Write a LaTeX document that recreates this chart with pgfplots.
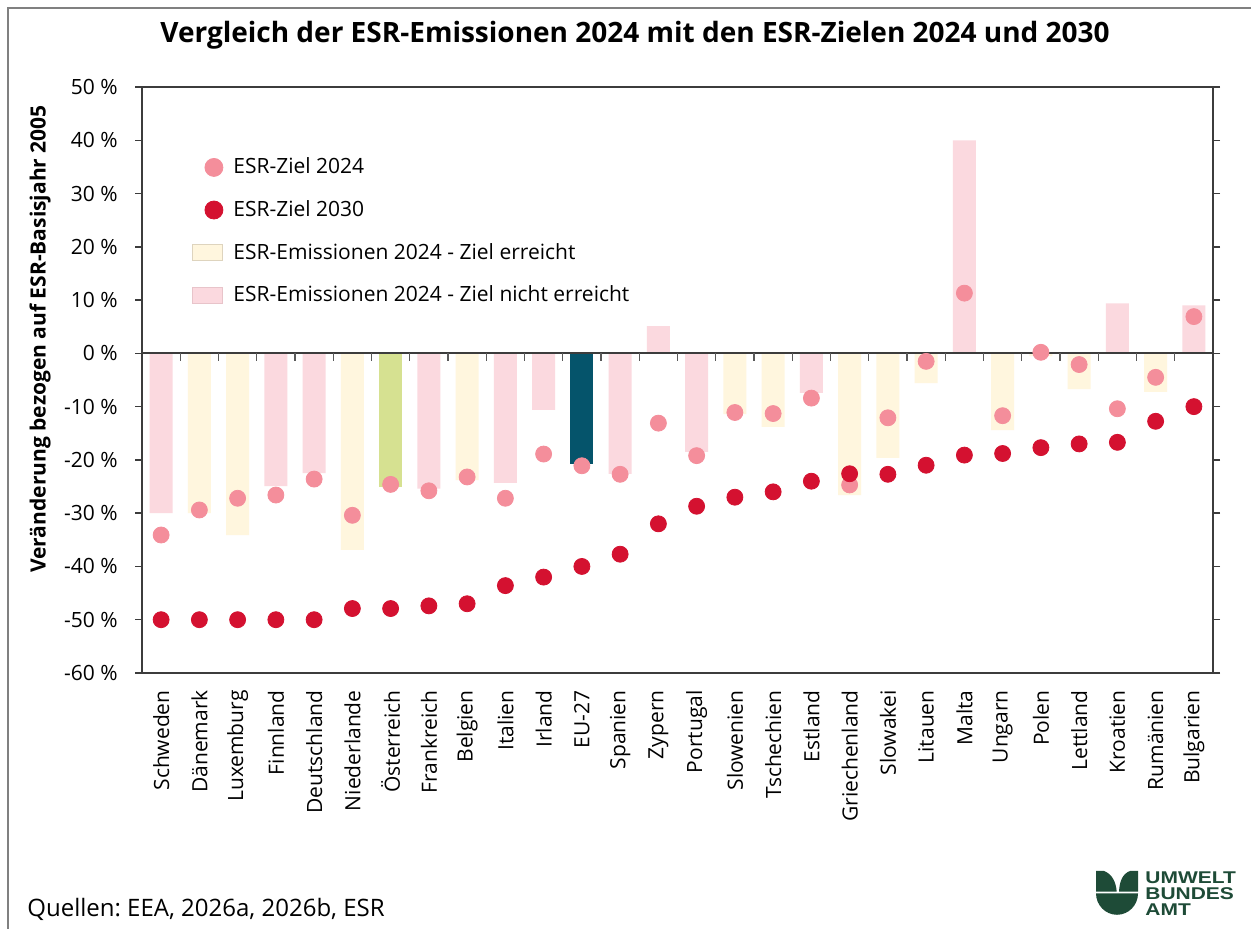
\documentclass[border=0pt]{standalone}
\usepackage{pgfplots}
\pgfplotsset{compat=1.18}
\usepackage{fontspec}
\setmainfont{Open Sans}
\newfontfamily\logofont{Liberation Sans}
\frenchspacing
\definecolor{barpink}{RGB}{251,217,223}
\definecolor{baryellow}{RGB}{255,246,222}
\definecolor{bargreen}{RGB}{214,225,145}
\definecolor{barteal}{RGB}{5,84,107}
\definecolor{dotpink}{RGB}{244,142,155}
\definecolor{dotred}{RGB}{212,17,48}
\definecolor{logogreen}{RGB}{30,75,55}
\definecolor{framegray}{RGB}{128,128,128}
\definecolor{axisgray}{RGB}{60,60,60}
\definecolor{yellowborder}{RGB}{222,212,190}
\definecolor{pinkborder}{RGB}{232,196,202}
\begin{document}
\frenchspacing
\begin{tikzpicture}
\useasboundingbox (0,0) rectangle (625.5pt,464.5pt);
\clip (0,0) rectangle (625.5pt,464.5pt);
\fill[white] (0,0) rectangle (625.5pt,464.5pt);
\draw[framegray, line width=1pt] (4pt,-20pt) rectangle (700pt,460.5pt);
\begin{axis}[
  at={(71pt,128pt)}, anchor=south west,
  scale only axis, width=535.5pt, height=293pt,
  xmin=-0.5, xmax=27.5, ymin=-60, ymax=50,
  axis line style={axisgray, line width=1pt},
  tick align=outside, major tick length=3.5pt,
  xtick={0,...,27},
  xtick style={draw=none},
  xticklabels={Schweden,Dänemark,Luxemburg,Finnland,Deutschland,Niederlande,Österreich,Frankreich,Belgien,Italien,Irland,EU-27,Spanien,Zypern,Portugal,Slowenien,Tschechien,Estland,Griechenland,Slowakei,Litauen,Malta,Ungarn,Polen,Lettland,Kroatien,Rumänien,Bulgarien},
  xticklabel style={rotate=90, anchor=east, inner sep=0pt, font=\fontsize{10.5pt}{12pt}\selectfont},
  xticklabel shift=5pt,
  ytick={-60,-50,-40,-30,-20,-10,0,10,20,30,40,50},
  yticklabels={-60 \%,-50 \%,-40 \%,-30 \%,-20 \%,-10 \%,0 \%,10 \%,20 \%,30 \%,40 \%,50 \%},
  ytick style={axisgray, line width=0.75pt},
  yticklabel style={anchor=east, inner sep=0pt, font=\fontsize{10.5pt}{12pt}\selectfont},
  yticklabel shift=8.5pt,
  legend style={at={(0.0467,0.8805)}, anchor=north west, draw=none, fill=none,
    inner sep=0pt, row sep=11.3pt, column sep=5pt,
    font=\fontsize{10.5pt}{12pt}\selectfont, nodes={inner sep=0pt}},
  legend cell align=left,
]
\addlegendimage{legend image code/.code={\path[draw=none,fill=none] (-7.5pt,-5pt) rectangle (7.5pt,5pt); \fill[dotpink] (3pt,0pt) circle (4.5pt);}}
\addlegendentry{ESR-Ziel 2024}
\addlegendimage{legend image code/.code={\path[draw=none,fill=none] (-7.5pt,-5pt) rectangle (7.5pt,5pt); \fill[dotred] (3pt,0pt) circle (4.5pt);}}
\addlegendentry{ESR-Ziel 2030}
\addlegendimage{legend image code/.code={\path[draw=none,fill=none] (-7.5pt,-5pt) rectangle (7.5pt,5pt); \filldraw[fill=baryellow, draw=yellowborder, line width=0.5pt] (-7.5pt,-4pt) rectangle (7.5pt,4pt);}}
\addlegendentry{ESR-Emissionen 2024 - Ziel erreicht}
\addlegendimage{legend image code/.code={\path[draw=none,fill=none] (-7.5pt,-5pt) rectangle (7.5pt,5pt); \filldraw[fill=barpink, draw=pinkborder, line width=0.5pt] (-7.5pt,-4pt) rectangle (7.5pt,4pt);}}
\addlegendentry{ESR-Emissionen 2024 - Ziel nicht erreicht}
% ESR-Emissionen 2024 - Ziel nicht erreicht
\addplot[ybar, bar width=11.5pt, bar shift=0pt, fill=barpink, draw=none, forget plot] coordinates {
 (0,-30.0) (3,-24.9) (4,-22.5) (7,-25.4) (9,-24.3) (10,-10.6) (12,-22.6) (13,5.1) (14,-18.5) (17,-7.4) (21,40.0) (25,9.4) (27,9.0)};
% ESR-Emissionen 2024 - Ziel erreicht
\addplot[ybar, bar width=11.5pt, bar shift=0pt, fill=baryellow, draw=none, forget plot] coordinates {
 (1,-30.0) (2,-34.1) (5,-36.9) (8,-23.8) (15,-11.4) (16,-13.8) (18,-26.6) (19,-19.6) (20,-5.6) (22,-14.4) (23,-0.5) (24,-6.7) (26,-7.25)};
% Oesterreich
\addplot[ybar, bar width=11.5pt, bar shift=0pt, fill=bargreen, draw=none, forget plot] coordinates {(6,-25.1)};
% EU-27
\addplot[ybar, bar width=11.5pt, bar shift=0pt, fill=barteal, draw=none, forget plot] coordinates {(11,-20.7)};
% zero line
\addplot[axisgray, line width=0.9pt, forget plot] coordinates {(-0.5,0) (27.5,0)};
\pgfplotsinvokeforeach{0.5,1.5,2.5,3.5,4.5,5.5,6.5,7.5,8.5,9.5,10.5,11.5,12.5,13.5,14.5,15.5,16.5,17.5,18.5,19.5,20.5,21.5,22.5,23.5,24.5,25.5,26.5}{
  \draw[axisgray!85, line width=0.6pt] (axis cs:#1,0) -- ++(0pt,-4pt);
}
% ESR-Ziel 2024
\addplot[only marks, mark=*, mark size=4pt, color=dotpink, forget plot] coordinates {
 (0,-34.1) (1,-29.4) (2,-27.2) (3,-26.6) (4,-23.6) (5,-30.4) (6,-24.6) (7,-25.8) (8,-23.2) (9,-27.2)
 (10,-18.9) (11,-21.1) (12,-22.7) (13,-13.1) (14,-19.2) (15,-11.1) (16,-11.3) (17,-8.4) (18,-24.7) (19,-12.1)
 (20,-1.5) (21,11.3) (22,-11.7) (23,0.2) (24,-2.1) (25,-10.4) (26,-4.5) (27,6.9)};
% ESR-Ziel 2030
\addplot[only marks, mark=*, mark size=4pt, color=dotred, forget plot] coordinates {
 (0,-50) (1,-50) (2,-50) (3,-50) (4,-50) (5,-47.9) (6,-47.9) (7,-47.4) (8,-47.0) (9,-43.6)
 (10,-42.0) (11,-40.0) (12,-37.7) (13,-32.0) (14,-28.7) (15,-27.0) (16,-26.0) (17,-24.0) (18,-22.6) (19,-22.7)
 (20,-21.0) (21,-19.1) (22,-18.8) (23,-17.7) (24,-17.0) (25,-16.7) (26,-12.75) (27,-10.0)};
\end{axis}
\begin{scope}[shift={(0pt,464.5pt)}, x=0.5pt, y=-0.5pt]
\node[anchor=base, inner sep=0pt, font=\fontsize{14pt}{16pt}\selectfont\bfseries] at (635,43) {Vergleich der ESR-Emissionen 2024 mit den ESR-Zielen 2024 und 2030};
\node[rotate=90, inner sep=0pt, font=\fontsize{10.5pt}{12pt}\selectfont\bfseries] at (40,339) {Veränderung bezogen auf ESR-Basisjahr 2005};
\node[anchor=base west, inner sep=0pt, font=\fontsize{12pt}{14pt}\selectfont] at (27,917) {Quellen: EEA, 2026a, 2026b, ESR};
% logo
\fill[logogreen] (1096,871) -- (1104,871) .. controls (1112,874) and (1116,882) .. (1116.7,891.7) -- (1096,891.7) -- cycle;
\fill[logogreen] (1138,871) -- (1130,871) .. controls (1122,874) and (1119.5,882) .. (1119,891.7) -- (1138,891.7) -- cycle;
\fill[logogreen] (1096,893.3) -- (1138,893.3) arc[start angle=0, end angle=180, x radius=21, y radius=21.5] -- cycle;
\node[anchor=north west, inner sep=0pt, text=logogreen] at (1145,871.5) {\scalebox{1.048}[0.85]{\fontsize{10pt}{8.06pt}\logofont\bfseries\begin{tabular}[t]{@{}l@{}}UMWELT\\BUNDES\\AMT\end{tabular}}};
\end{scope}
\end{tikzpicture}
\end{document}
